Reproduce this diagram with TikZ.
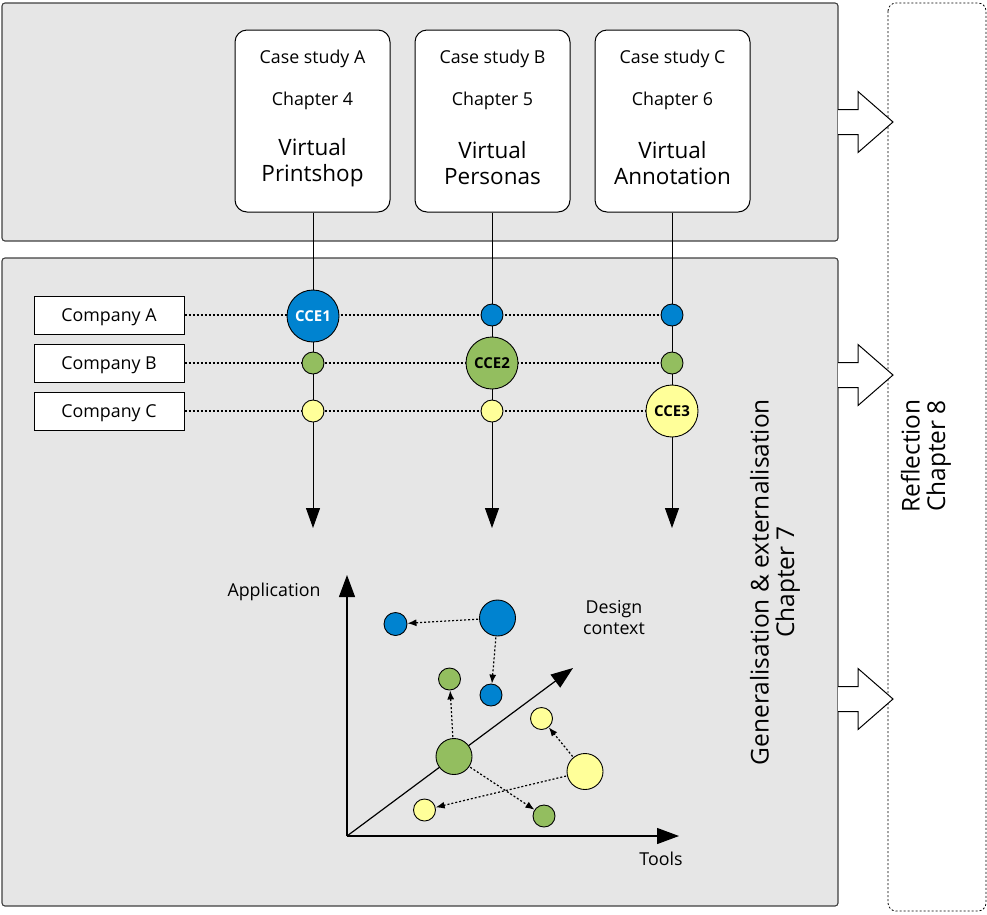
\documentclass[tikz,border=0pt]{standalone}
\usepackage{fontspec}
\setmainfont{Open Sans}
\usetikzlibrary{arrows.meta}

\definecolor{panelgray}{HTML}{E6E6E6}
\definecolor{cblue}{HTML}{0083D0}
\definecolor{cgreen}{HTML}{93BE5F}
\definecolor{cyellow}{HTML}{FFFF99}

\newcommand{\smalltxt}{\fontsize{17.8}{21}\selectfont}
\newcommand{\bigtxt}{\fontsize{22.5}{26}\selectfont}
\newcommand{\sidetxt}{\fontsize{24.5}{25.5}\selectfont}
\newcommand{\ccetxt}{\fontsize{15}{17}\selectfont\bfseries}

\tikzset{
  panel/.style={draw=black!75, line width=1.1pt, fill=panelgray, rounded corners=3pt},
  sidepanel/.style={draw=black, line width=0.8pt, dash pattern=on 2pt off 2pt, fill=white, rounded corners=8pt},
  casebox/.style={draw=black, line width=1pt, fill=white, rounded corners=12pt,
    minimum width=155pt, minimum height=182pt, inner sep=0pt},
  compbox/.style={draw=black, line width=1pt, fill=white,
    minimum width=150pt, minimum height=38pt, inner sep=0pt},
  label/.style={inner sep=0pt, align=center, font=\smalltxt},
  dotsmall/.style={circle, draw=black, line width=0.9pt, minimum size=22pt, inner sep=0pt},
  dotbig/.style={circle, draw=black, line width=0.9pt, minimum size=52pt, inner sep=0pt, font=\ccetxt},
  dotmid/.style={circle, draw=black, line width=0.9pt, minimum size=36pt, inner sep=0pt},
  flow/.style={line width=1pt, -{Triangle[width=14pt,length=20pt]}},
  axis/.style={line width=1.2pt, -{Triangle[width=16pt,length=22pt]}},
  dotline/.style={line width=1.2pt, dash pattern=on 2pt off 2pt},
  dotarrow/.style={line width=1.2pt, dash pattern=on 2pt off 2pt, -{Latex[width=7pt,length=9pt]}, shorten <=1pt},
  blockarrow/.style={draw=black, line width=1pt, fill=white, line join=miter}
}

\begin{document}
\begin{tikzpicture}[x=1pt,y=-1pt]
\useasboundingbox (0,0) rectangle (987,914);

% background panels
\draw[sidepanel] (888,3) rectangle (986,911);
\draw[panel] (2,3) rectangle (838,241);
\draw[panel] (2,258) rectangle (838,906);

% block arrows from the panels into the reflection column
\foreach \yc in {122,375,699}{
  \draw[blockarrow] (838,\yc-12.5) -- (858,\yc-12.5) -- (858,\yc-30.5) -- (893,\yc)
    -- (858,\yc+30.5) -- (858,\yc+12.5) -- (838,\yc+12.5);
}

% case studies
\node[casebox] (boxA) at (312.5,121) {};
\node[casebox] (boxB) at (492.5,121) {};
\node[casebox] (boxC) at (672.5,121) {};

\node[label] (csA) at (312.5,58.5) {Case study A};
\node[label] (chA) at (312.5,100.5) {Chapter 4};
\node[label, font=\bigtxt] (tA) at (312.5,163) {Virtual\\Printshop};
\node[label] (csB) at (492.5,58.5) {Case study B};
\node[label] (chB) at (492.5,100.5) {Chapter 5};
\node[label, font=\bigtxt] (tB) at (492.5,163) {Virtual\\Personas};
\node[label] (csC) at (672.5,58.5) {Case study C};
\node[label] (chC) at (672.5,100.5) {Chapter 6};
\node[label, font=\bigtxt] (tC) at (672.5,163) {Virtual\\Annotation};

% companies
\node[compbox] (compA) at (109,315) {};
\node[compbox] (compB) at (109,363) {};
\node[compbox] (compC) at (109,411) {};
\node[label] (ncA) at (109,317) {Company A};
\node[label] (ncB) at (109,365) {Company B};
\node[label] (ncC) at (109,413) {Company C};

% column end points
\coordinate (endA) at (313,528);
\coordinate (endB) at (492,528);
\coordinate (endC) at (672,528);

% connectors (drawn beneath the dots)
\draw[flow] (boxA.south -| endA) -- (endA);
\draw[flow] (boxB.south -| endB) -- (endB);
\draw[flow] (boxC.south -| endC) -- (endC);
\draw[dotline] (compA.east) -- (compA.east -| endC);
\draw[dotline] (compB.east) -- (compB.east -| endC);
\draw[dotline] (compC.east) -- (compC.east -| endC);

% dots per company and case
\node[dotbig, fill=cblue, text=white] (a1) at (313,316) {CCE1};
\node[dotsmall, fill=cgreen] (a2) at (313,363) {};
\node[dotsmall, fill=cyellow] (a3) at (313,411) {};
\node[dotsmall, fill=cblue] (b1) at (492,315) {};
\node[dotbig, fill=cgreen] (b2) at (492,363) {CCE2};
\node[dotsmall, fill=cyellow] (b3) at (492,411) {};
\node[dotsmall, fill=cblue] (c1) at (672,315) {};
\node[dotsmall, fill=cgreen] (c2) at (672,363) {};
\node[dotbig, fill=cyellow] (c3) at (672,411) {CCE3};

% side labels
\node[label, font=\sidetxt, rotate=90] (gen) at (775,582) {Generalisation \& externalisation\\Chapter 7};
\node[label, font=\sidetxt, rotate=90] (refl) at (926,456) {Reflection\\Chapter 8};

% design space axes
\coordinate (orig) at (347,836);
\coordinate (yend) at (347,575);
\coordinate (xend) at (679,836);
\coordinate (zend) at (573,668);
\draw[axis] (orig) -- (yend);
\draw[axis] (orig) -- (xend);
\draw[axis] (orig) -- (zend);

\node[label] (lapp) at (274,592) {Application};
\node[label] (ltools) at (661,859) {Tools};
\node[label] (lctx) at (614,618) {Design\\context};

% dots in the design space
\node[dotmid, fill=cblue] (pb) at (497.5,618) {};
\node[dotsmall, fill=cblue, minimum size=23pt] (pb1) at (395.5,624) {};
\node[dotsmall, fill=cblue] (pb2) at (491,695) {};
\node[dotmid, fill=cgreen] (pg) at (454,756.5) {};
\node[dotsmall, fill=cgreen] (pg1) at (449.5,679) {};
\node[dotsmall, fill=cgreen] (pg2) at (544,816) {};
\node[dotmid, fill=cyellow] (py) at (585,771.5) {};
\node[dotsmall, fill=cyellow] (py1) at (541.5,718.5) {};
\node[dotsmall, fill=cyellow] (py2) at (424.5,810) {};

\draw[dotarrow] (pb) -- (pb1);
\draw[dotarrow] (pb) -- (pb2);
\draw[dotarrow] (pg) -- (pg1);
\draw[dotarrow] (pg) -- (pg2);
\draw[dotarrow] (py) -- (py1);
\draw[dotarrow] (py) -- (py2);
\end{tikzpicture}
\end{document}
